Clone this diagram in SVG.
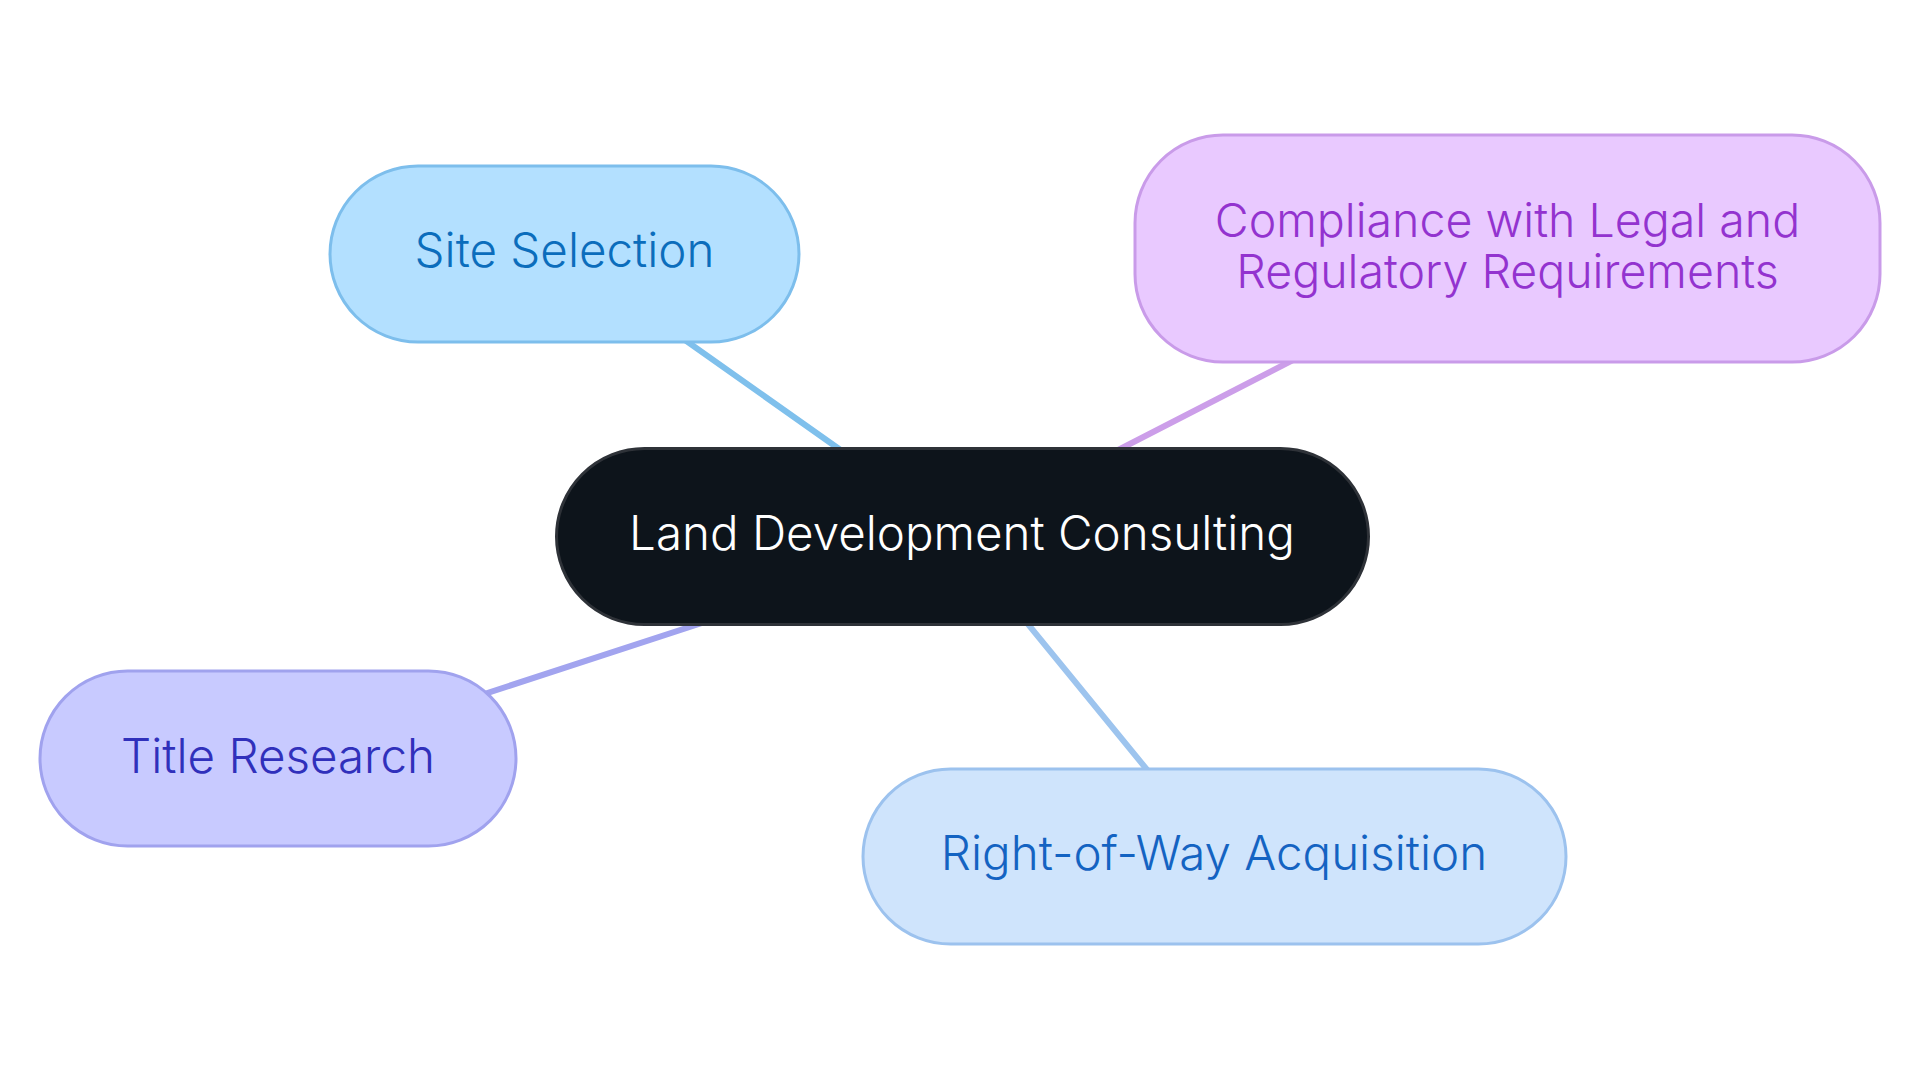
<svg xmlns="http://www.w3.org/2000/svg" width="1920" height="1083" viewBox="0 0 1920 1083">
<style>
.n rect{stroke-width:3}
.t{font-family:Inter,"Noto Sans","Liberation Sans",sans-serif;font-size:47.5px;font-weight:300;text-anchor:middle}
.c line{stroke-width:6;stroke-linecap:round}
</style>
<rect width="1920" height="1083" fill="#ffffff"/>
<g id="connectors" class="c">
<line x1="600" y1="280" x2="900" y2="492" stroke="#7fc0ec"/>
<line x1="1400" y1="305" x2="1050" y2="485" stroke="#cc9ee9"/>
<line x1="760" y1="604" x2="420" y2="715" stroke="#a2a4ef"/>
<line x1="1000" y1="590" x2="1180" y2="810" stroke="#9dc4ee"/>
</g>
<g id="node-center" class="n">
<rect x="556.5" y="448.5" width="812" height="176" rx="88" fill="#0d141b" stroke="#2e3238"/>
<text class="t" x="962" y="550" fill="#ffffff">Land Development Consulting</text>
</g>
<g id="node-site" class="n">
<rect x="330" y="166" width="469" height="176" rx="88" fill="#b3e0ff" stroke="#7dbeec"/>
<text class="t" x="564.5" y="267" fill="#0b6dbc">Site Selection</text>
</g>
<g id="node-compliance" class="n">
<rect x="1135" y="135" width="745" height="227" rx="88" fill="#e9c9ff" stroke="#c99be9"/>
<text class="t" x="1507.5" y="237" fill="#9333cf" style="font-size:46.5px"><tspan x="1507.5" y="237">Compliance with Legal and</tspan><tspan x="1507.5" y="288">Regulatory Requirements</tspan></text>
</g>
<g id="node-title" class="n">
<rect x="40" y="671" width="476" height="175" rx="87.5" fill="#c8caff" stroke="#a0a2ee"/>
<text class="t" x="278" y="773" fill="#3030bb">Title Research</text>
</g>
<g id="node-row" class="n">
<rect x="863" y="769" width="703" height="175" rx="87.5" fill="#cfe4fc" stroke="#9cc2ee"/>
<text class="t" x="1214" y="870" fill="#1463c2">Right-of-Way Acquisition</text>
</g>
</svg>
